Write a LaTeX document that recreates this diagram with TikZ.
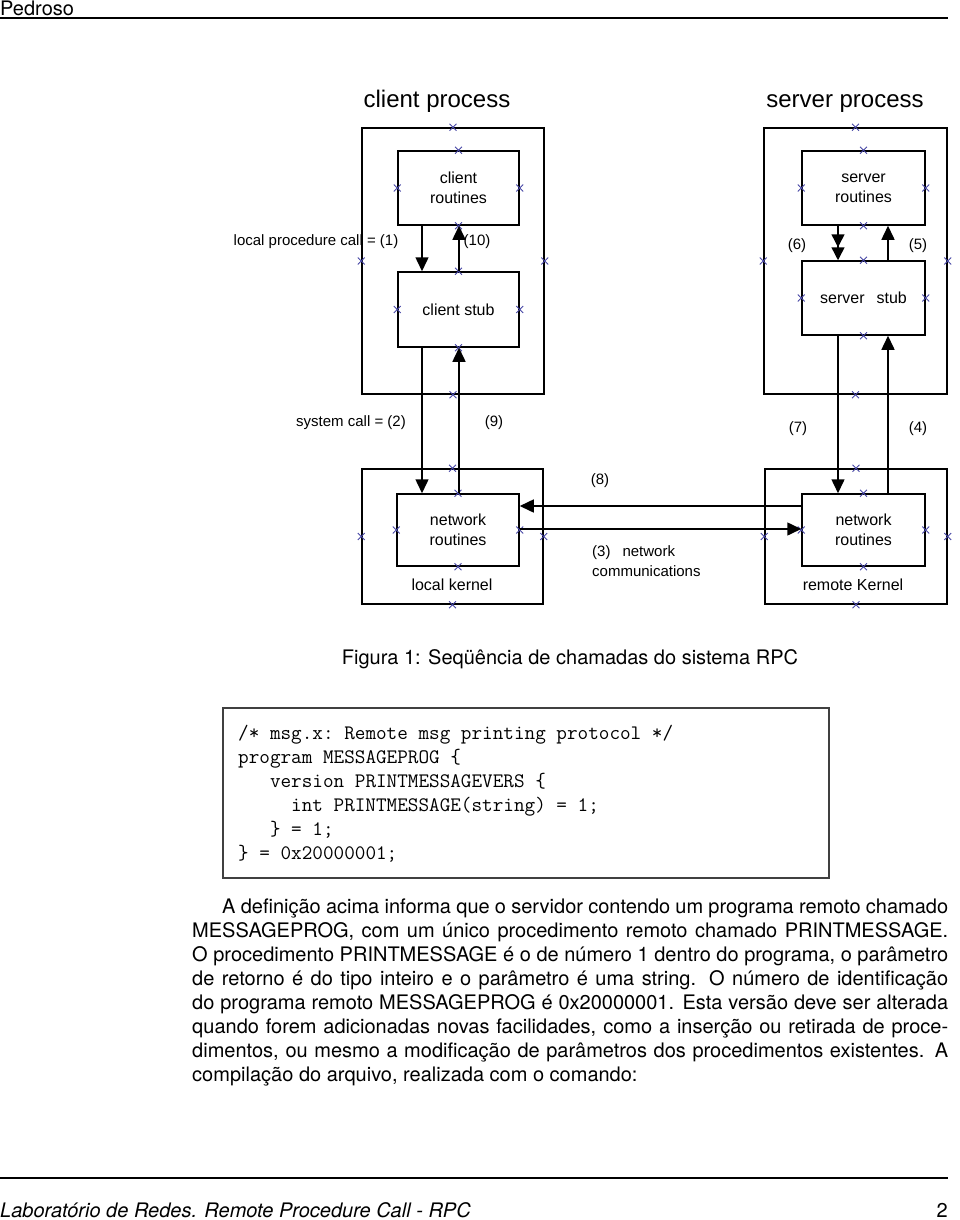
\documentclass[tikz,border=0pt]{standalone}
\usepackage{fontspec}
\setmainfont{TeX Gyre Heros}
\setmonofont{Latin Modern Mono}
\newfontfamily\diagfont{Liberation Sans}
\usetikzlibrary{arrows.meta,shapes.misc,calc}
\definecolor{xblue}{RGB}{70,70,165}
\begin{document}
\begin{tikzpicture}[x=1pt,y=-1pt,
  box/.style={draw, line width=1.5pt, inner sep=0pt},
  xm/.style={cross out, draw=xblue, line width=0.9pt, minimum size=6pt, inner sep=0pt},
  arr/.style={line width=1.5pt, -{Triangle[length=14pt,width=13pt]}},
  arrtwo/.style={line width=1.5pt, -{Triangle[length=13pt,width=13pt]Triangle[length=13pt,width=13pt]}},
  lbl/.style={font=\diagfont\fontsize{15}{20}\selectfont, inner sep=0pt},
  boxtxt/.style={font=\diagfont\fontsize{16}{20}\selectfont, inner sep=0pt},
  ttl/.style={font=\diagfont\fontsize{24}{28}\selectfont, inner sep=0pt},
  body/.style={font=\fontsize{20}{24}\selectfont, inner sep=0pt},
  rulestyle/.style={line width=2pt}
]
\useasboundingbox (0,0) rectangle (960,1220);

% header
\node[body, anchor=base west] (hdr) at (0,15.5) {Pedroso};
\coordinate (hl) at (0,18.5);
\coordinate (hr) at (948,18.5);
\draw[rulestyle] (hl) -- (hr);

% titles
\node[ttl, anchor=base] (tcp) at (437,108) {client process};
\node[ttl, anchor=base] (tsp) at (845,108) {server process};

% boxes
\node[box, minimum width=182pt, minimum height=266pt] (cp) at (453,261) {};
\node[box, minimum width=121pt, minimum height=74pt] (cr) at (458.5,188) {};
\node[box, minimum width=121pt, minimum height=75pt] (cs) at (458.5,309.5) {};
\node[box, minimum width=181pt, minimum height=135pt] (lk) at (452.5,536.5) {};
\node[box, minimum width=122pt, minimum height=72pt] (nl) at (458,530) {};
\node[box, minimum width=183pt, minimum height=266pt] (sp) at (855.5,261) {};
\node[box, minimum width=123pt, minimum height=74pt] (sr) at (863.5,188) {};
\node[box, minimum width=123pt, minimum height=74pt] (ss) at (863.5,298) {};
\node[box, minimum width=182pt, minimum height=135pt] (rk) at (856,536.5) {};
\node[box, minimum width=123pt, minimum height=72pt] (nr) at (863.5,530) {};

% box texts
\node[boxtxt, align=center] (crt) at (cr) {client\\routines};
\node[boxtxt] (cst) at (cs) {client stub};
\node[boxtxt, align=center] (nlt) at (nl) {network\\routines};
\node[boxtxt] (lkt) at (452,585) {local kernel};
\node[boxtxt, align=center] (srt) at (sr) {server\\routines};
\node[boxtxt] (sst) at (ss) {server\hspace{12pt}stub};
\node[boxtxt, align=center] (nrt) at (nr) {network\\routines};
\node[boxtxt] (rkt) at (853,585) {remote Kernel};

% x marks
\foreach \b in {cp,cr,cs,lk,nl,sp,sr,ss,rk,nr}
  \foreach \a in {north,south,east,west}
    \node[xm] (m-\b-\a) at (\b.\a) {};

% connector guides
\coordinate (xa) at (422,0);
\coordinate (xb) at (459,0);
\coordinate (xc) at (838,0);
\coordinate (xd) at (888,0);
\coordinate (ya) at (0,506);
\coordinate (yb) at (0,529);

\draw[arr] (xa |- cr.south) -- (xa |- cs.north);
\draw[arr] (xb |- cs.north) -- (xb |- cr.south);
\draw[arr] (xa |- cs.south) -- (xa |- nl.north);
\draw[arr] (xb |- nl.north) -- (xb |- cs.south);
\draw[arrtwo] (xc |- sr.south) -- (xc |- ss.north);
\draw[arr] (xd |- ss.north) -- (xd |- sr.south);
\draw[arr] (xc |- ss.south) -- (xc |- nr.north);
\draw[arr] (xd |- nr.north) -- (xd |- ss.south);
\draw[arr] (nr.west |- ya) -- (nl.east |- ya);
\draw[arr] (nl.east |- yb) -- (nr.west |- yb);

% labels
\node[lbl] (l1) at (316,242) {local procedure call = (1)};
\node[lbl] (l10) at (477,242) {(10)};
\node[lbl] (l6) at (797,246) {(6)};
\node[lbl] (l5) at (918,246) {(5)};
\node[lbl] (l2) at (351,423) {system call = (2)};
\node[lbl] (l9) at (494,423) {(9)};
\node[lbl] (l7) at (798,429) {(7)};
\node[lbl] (l4) at (918,429) {(4)};
\node[lbl] (l8) at (600,481) {(8)};
\node[lbl, align=left, anchor=west] (l3) at (592,561) {(3)\hspace{12pt}network\\communications};

% caption
\node[body, anchor=base] (cap) at (570,664) {Figura 1: Seqüência de chamadas do sistema RPC};

% code box
\node[draw=black!75, line width=1.2pt, minimum width=606pt, minimum height=170pt, inner sep=0pt] (codebox) at (526,793) {};
\node[anchor=north west, inner sep=0pt, align=left, font=\ttfamily\fontsize{20.6}{24}\selectfont] (code) at (238,725)
{/* msg.x: Remote msg printing protocol */\\
program MESSAGEPROG \{\\
\phantom{xxx}version PRINTMESSAGEVERS \{\\
\phantom{xxxxx}int PRINTMESSAGE(string) = 1;\\
\phantom{xxx}\} = 1;\\
\} = 0x20000001;};

% paragraph
\node[body, anchor=north west, text width=756pt, align=justify] (para) at (192,899)
{\hspace*{30pt}A definição acima informa que o servidor contendo um programa remoto chamado\linebreak
MESSAGEPROG, com um único procedimento remoto chamado PRINTMESSAGE.\linebreak
O procedimento PRINTMESSAGE é o de número 1 dentro do programa, o parâmetro\linebreak
de retorno é do tipo inteiro e o parâmetro é uma string. O número de identificação\linebreak
do programa remoto MESSAGEPROG é 0x20000001. Esta versão deve ser alterada\linebreak
quando forem adicionadas novas facilidades, como a inserção ou retirada de proce-\linebreak
dimentos, ou mesmo a modificação de parâmetros dos procedimentos existentes. A\linebreak
compilação do arquivo, realizada com o comando:};

% footer
\coordinate (fl) at (0,1178);
\coordinate (fr) at (948,1178);
\draw[rulestyle] (fl) -- (fr);
\node[body, anchor=base west, font=\itshape\fontsize{20}{24}\selectfont] (ftl) at (0,1217) {Laboratório de Redes. Remote Procedure Call - RPC};
\node[body, anchor=base east] (ftr) at (948,1217) {2};
\end{tikzpicture}
\end{document}
